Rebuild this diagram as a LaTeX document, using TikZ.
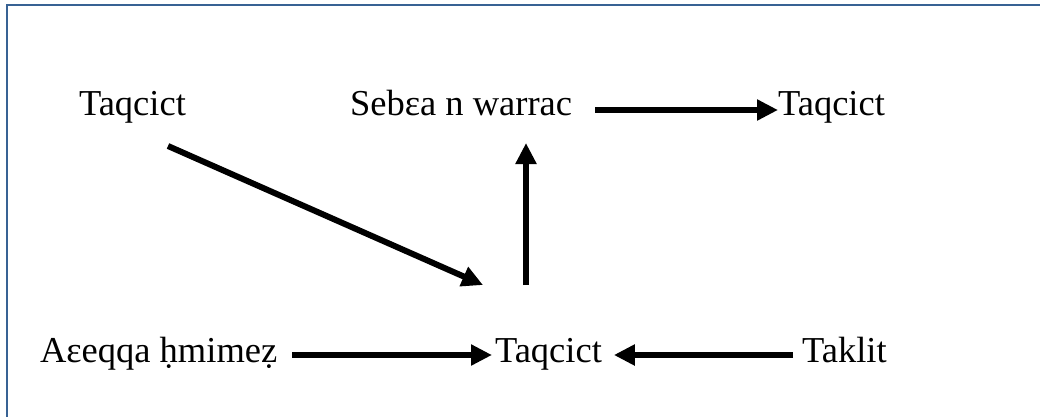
\documentclass[tikz,border=0pt]{standalone}
\usepackage{fontspec}
\setmainfont{Liberation Serif}
\usetikzlibrary{arrows.meta,calc}
\definecolor{framecol}{RGB}{56,98,148}
\tikzset{
  lbl/.style={inner sep=0pt, outer sep=0pt, font=\fontsize{36.5}{40}\selectfont, anchor=base west},
  arr/.style={line width=6pt, -{Triangle[length=21pt,width=20pt]}}
}
\begin{document}
\begin{tikzpicture}[x=1pt,y=-1pt]
\useasboundingbox (0,0) rectangle (1040,416);
\draw[framecol, line width=2.2pt] (7,420) -- (7,5) -- (1045,5);
\node[lbl] (t1) at (79,115) {Taqcict};
\node[lbl] (s) at (350,115) {Sebεa n warrac};
\node[lbl] (t2) at (778,115) {Taqcict};
\node[lbl] (a) at (40,362) {Aεeqqa ḥmimeẓ};
\node[lbl] (t3) at (495,362) {Taqcict};
\node[lbl] (k) at (802,362) {Taklit};
\draw[arr] ($(s.base east)+(23,-5)$) -- ($(t2.base west)+(0,-5)$);
\draw[arr] ($(t1.base west)+(89,31)$) -- ($(t3.base west)+(-12,-77)$);
\draw[arr] ($(t3.base west)+(31,-77)$) -- ($(s.base west)+(176,28)$);
\draw[arr] ($(a.base east)+(15,-7)$) -- ($(t3.base west)+(-3,-7)$);
\draw[arr] ($(k.base west)+(-9,-7)$) -- ($(t3.base east)+(12,-7)$);
\end{tikzpicture}
\end{document}
